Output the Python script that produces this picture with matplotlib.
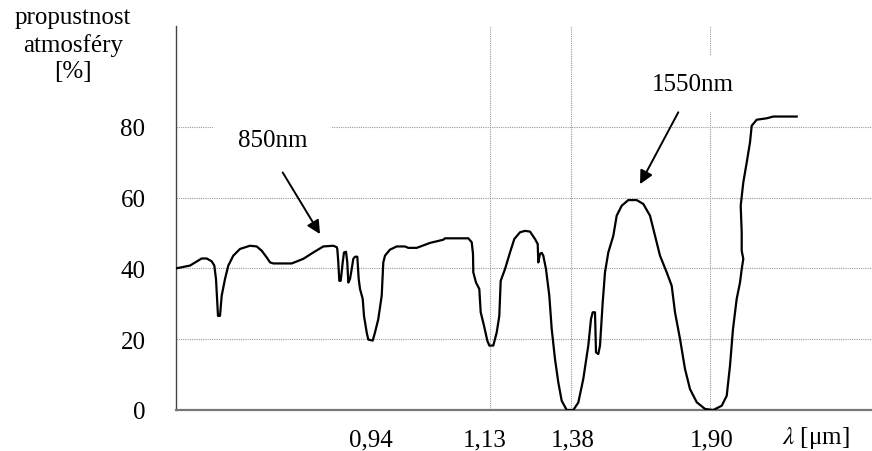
import matplotlib
matplotlib.use("Agg")
import matplotlib.pyplot as plt

# ---- data (x = position along the schematic wavelength axis, y = transmittance %) ----
x_pos = [0, 14, 25.7, 30.7, 35.7, 38.3, 40, 41.3, 42, 44,
         45.7, 49, 52.3, 57.3, 64, 74, 80.7, 85.7, 90.7, 94,
         97.3, 115.7, 127.3, 137.3, 147.3, 157.3, 160.7, 161.3, 162.3, 163.3,
         164.7, 166.7, 168, 170, 171.3, 172.3, 174, 175.7, 177.3, 179,
         181.3, 182.7, 184, 186.7, 188, 190.7, 192.3, 196.7, 199, 202.3,
         205.7, 207.3, 209, 214, 220.7, 229, 232.3, 240.7, 254, 267.3,
         269, 292.3, 295.7, 297, 297.3, 300, 303.3, 304.7, 308, 311.3,
         313.3, 317.3, 320.7, 323.3, 324.7, 329, 334, 338.3, 344, 349,
         354, 359, 361.7, 362.3, 364, 365.7, 367.3, 370, 373.3, 375.7,
         379, 382.3, 385.7, 390.7, 397.3, 402.3, 407.3, 412.3, 415, 416.7,
         419, 420, 422.3, 424, 426.7, 429, 432.3, 437.3, 440.7, 445.7,
         452.3, 460.7, 467.3, 474, 479, 484, 490.7, 495.7, 499, 504,
         509, 514, 520.7, 529, 537.3, 545.7, 550.7, 554, 557, 560.7,
         564, 565.7, 567.3, 565.7, 565.7, 564.7, 567.3, 570.7, 574, 575.7,
         580.7, 590.7, 597.3, 620.7]
transmittance = [40.0, 40.8, 42.8, 42.8, 42.0, 40.8, 37.0, 30.5, 26.6, 26.6,
                 32.3, 37.0, 40.8, 43.6, 45.5, 46.4, 46.2, 45.0, 43.1, 41.7,
                 41.4, 41.4, 42.7, 44.5, 46.2, 46.4, 46.0, 45.5, 41.7, 36.5,
                 36.5, 41.7, 44.5, 44.7, 41.7, 36.0, 37.0, 39.8, 42.7, 43.3,
                 43.3, 37.0, 34.2, 31.4, 26.6, 21.9, 19.9, 19.6, 21.9, 25.7,
                 32.3, 41.7, 43.6, 45.3, 46.2, 46.2, 45.8, 45.8, 47.2, 48.1,
                 48.5, 48.5, 47.4, 44.1, 38.9, 36.0, 34.2, 27.6, 23.8, 19.6,
                 18.2, 18.2, 21.9, 26.6, 36.5, 39.8, 44.5, 48.3, 50.2, 50.6,
                 50.4, 48.3, 46.9, 41.7, 44.1, 44.4, 43.6, 39.8, 32.3, 22.9,
                 14.4, 7.8, 2.6, 0.0, 0.0, 2.1, 8.8, 18.2, 25.7, 27.6,
                 27.6, 16.3, 15.8, 18.2, 30.4, 38.9, 44.5, 49.2, 54.9, 57.7,
                 59.3, 59.3, 58.2, 54.9, 49.2, 43.6, 38.9, 35.1, 27.6, 20.1,
                 11.6, 5.9, 2.2, 0.3, 0.0, 1.2, 4.0, 12.5, 22.9, 31.4,
                 36.0, 39.8, 42.7, 45.0, 50.2, 57.7, 64.3, 69.9, 75.6, 80.3,
                 82.0, 82.4, 82.9, 82.9]

y_ticks = [0, 20, 40, 60, 80]
x_tick_labels = ["0,94", "1,13", "1,38", "1,90"]
x_tick_label_pos = [195, 308.5, 397, 536]
x_grid_pos = [195, 314, 395, 534]

annot_labels = ["850nm", "1550nm"]
annot_text_xy = [(96.5, 76.4), (517, 92.1)]
annot_tail_xy = [(106.7, 67.1), (502.3, 84.1)]
annot_head_xy = [(144, 49.7), (464, 63.8)]
annot_box_pad = [1.0, 0.7]

# ---- styling ----
plt.rcParams['font.family'] = ['Liberation Serif', 'DejaVu Serif']
plt.rcParams['mathtext.fontset'] = 'stix'
FS = 18

fig = plt.figure(figsize=(8.72, 4.52), dpi=100)
ax = fig.add_axes([176 / 872, 41 / 452, 1 - 176 / 872, (411 - 27) / 452])

ax.plot(x_pos, transmittance, color='black', lw=1.6, zorder=3, solid_joinstyle='round')

ax.set_xlim(0, 696)
ax.set_ylim(0, (411 - 27) / 3.54)

ax.set_yticks(y_ticks)
ax.set_yticklabels([str(v) for v in y_ticks], fontsize=FS)
ax.set_xticks(x_tick_label_pos)
ax.set_xticklabels(x_tick_labels, fontsize=FS)
ax.set_xticks(x_grid_pos, minor=True)
ax.tick_params(axis='both', which='both', length=0)
ax.tick_params(axis='y', pad=22)
ax.tick_params(axis='x', pad=13)

ax.yaxis.grid(True, which='major', linestyle=(0, (1, 1)), color='#999999', lw=0.8)
ax.xaxis.grid(False, which='major')
ax.xaxis.grid(True, which='minor', linestyle=(0, (1, 1)), color='#999999', lw=0.8)
ax.set_axisbelow(True)

for s in ['top', 'right']:
    ax.spines[s].set_visible(False)
ax.spines['left'].set_color('#444444')
ax.spines['left'].set_linewidth(1.0)
ax.spines['bottom'].set_color('#777777')
ax.spines['bottom'].set_linewidth(1.6)

for lab, txy, tail, head, pad in zip(annot_labels, annot_text_xy, annot_tail_xy,
                                     annot_head_xy, annot_box_pad):
    ax.text(txy[0], txy[1], lab, fontsize=FS, ha='center', va='center', zorder=4,
            bbox=dict(boxstyle=f'square,pad={pad}', facecolor='white', edgecolor='none'))
    ax.annotate('', xy=head, xytext=tail, zorder=5,
                arrowprops=dict(arrowstyle='-|>', color='black', lw=1.4,
                                mutation_scale=20, shrinkA=0, shrinkB=0))

fig.text(73 / 872, (452 - 45) / 452, "propustnost\natmosféry\n[%]", fontsize=FS,
         ha='center', va='center', multialignment='center', linespacing=1.25)
fig.text(816 / 872, (452 - 438) / 452, r"$\lambda$ [μm]", fontsize=FS,
         ha='center', va='center')

fig.savefig("out.png", dpi=100)
